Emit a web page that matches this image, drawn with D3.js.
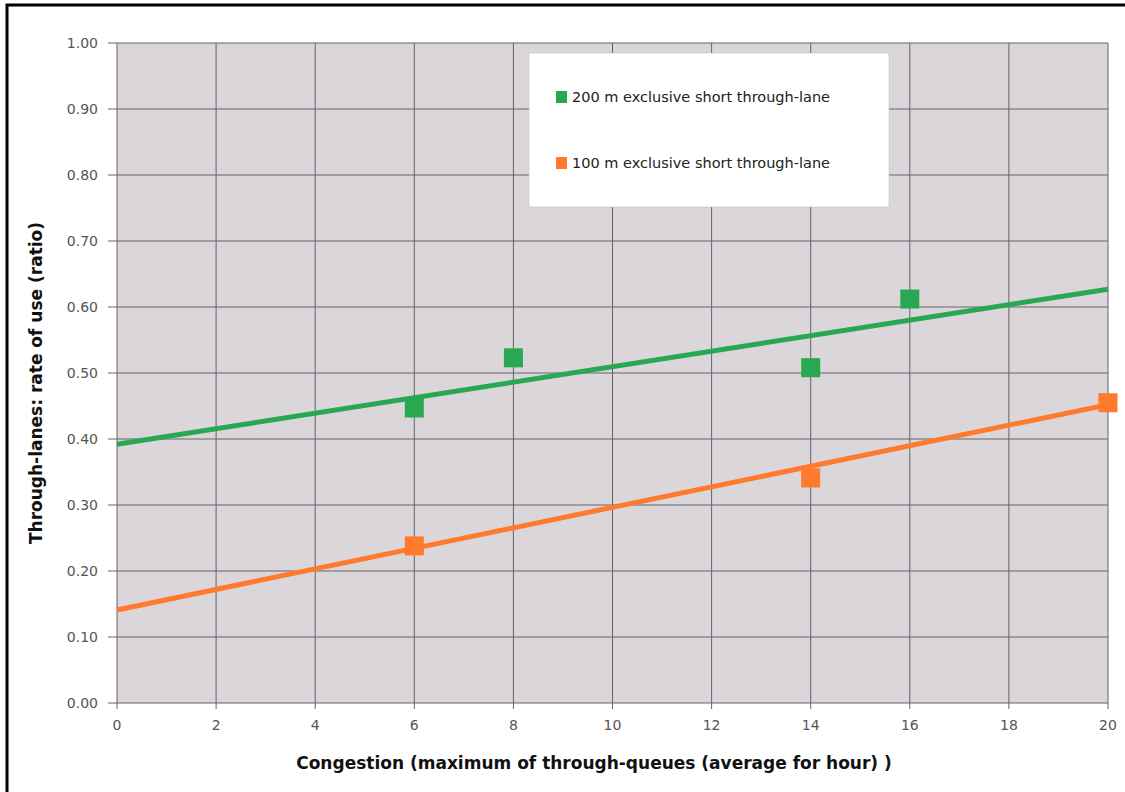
<!DOCTYPE html>
<html>
<head>
<meta charset="utf-8">
<script src="https://cdn.jsdelivr.net/npm/d3@7"></script>
<style>
  body { margin: 0; background: #fff; }
  svg { display: block; }
</style>
</head>
<body>
<svg></svg>
<script>
//CANVAS
var w = 1125;
var h = 792;
var margin = {left: 117, right: 15, top: 43, bottom: 89};

//DATA
var xTicks = [0, 2, 4, 6, 8, 10, 12, 14, 16, 18, 20];
var yTicks = [0, 0.1, 0.2, 0.3, 0.4, 0.5, 0.6, 0.7, 0.8, 0.9, 1.0];
var seriesNames = ["200 m exclusive short through-lane", "100 m exclusive short through-lane"];
var green200x = [6, 8, 14, 16];
var green200y = [0.447, 0.523, 0.508, 0.612];
var orange100x = [6, 14, 20];
var orange100y = [0.238, 0.341, 0.455];
// trend lines, value at x = 0 and x = 20
var trendX = [0, 20];
var green200trend = [0.392, 0.627];
var orange100trend = [0.141, 0.452];
var colors = ["#27a851", "#ff7a2c"];

var svg = d3.select("svg")
     .attr("width", w)
     .attr("height", h)
     .style("font-family", "'DejaVu Sans', Verdana, sans-serif");

//outer frame from the scan
svg.append("rect")
     .attr("x", 7).attr("y", 5)
     .attr("width", w + 10).attr("height", h + 10)
     .attr("fill", "none")
     .attr("stroke", "black")
     .attr("stroke-width", 3);

var xScale = d3.scaleLinear()
     .domain([0, 20])
     .range([margin.left, w - margin.right - 2]);
var yScale = d3.scaleLinear()
     .domain([0, 1])
     .range([h - margin.bottom, margin.top]);

//plot area
svg.append("rect")
     .attr("x", xScale(0))
     .attr("y", yScale(1))
     .attr("width", xScale(20) - xScale(0))
     .attr("height", yScale(0) - yScale(1))
     .attr("fill", "#dbd6da");

//GRID
var gridColor = "#66626a";
svg.append("g")
     .selectAll("line")
     .data(yTicks)
     .join("line")
     .attr("x1", xScale(0) - 9)
     .attr("x2", xScale(20))
     .attr("y1", d => yScale(d))
     .attr("y2", d => yScale(d))
     .attr("stroke", gridColor)
     .attr("stroke-width", 1);

svg.append("g")
     .selectAll("line")
     .data(xTicks)
     .join("line")
     .attr("x1", d => xScale(d))
     .attr("x2", d => xScale(d))
     .attr("y1", yScale(1))
     .attr("y2", yScale(0) + 6)
     .attr("stroke", gridColor)
     .attr("stroke-width", 1);

//AXIS LABELS
svg.append("g")
     .selectAll("text")
     .data(yTicks)
     .join("text")
     .attr("x", xScale(0) - 19)
     .attr("y", d => yScale(d) + 5)
     .attr("text-anchor", "end")
     .attr("font-size", 14)
     .attr("fill", "#555")
     .text(d => d3.format(".2f")(d));

svg.append("g")
     .selectAll("text")
     .data(xTicks)
     .join("text")
     .attr("x", d => xScale(d))
     .attr("y", yScale(0) + 27)
     .attr("text-anchor", "middle")
     .attr("font-size", 14)
     .attr("fill", "#555")
     .text(d => d);

svg.append("text")
     .attr("x", 594)
     .attr("y", 769)
     .attr("text-anchor", "middle")
     .attr("font-size", 17)
     .attr("font-weight", "bold")
     .attr("fill", "#111")
     .text("Congestion (maximum of through-queues (average for hour) )");

svg.append("text")
     .attr("transform", "translate(42,383) rotate(-90)")
     .attr("text-anchor", "middle")
     .attr("font-size", 17)
     .attr("font-weight", "bold")
     .attr("fill", "#111")
     .text("Through-lanes: rate of use (ratio)");

//TREND LINES
var lineMaker = d3.line()
     .x(d => xScale(d[0]))
     .y(d => yScale(d[1]));

svg.append("path")
     .attr("d", lineMaker(d3.zip(trendX, green200trend)))
     .attr("stroke", colors[0])
     .attr("stroke-width", 5)
     .attr("fill", "none");

svg.append("path")
     .attr("d", lineMaker(d3.zip(trendX, orange100trend)))
     .attr("stroke", colors[1])
     .attr("stroke-width", 5)
     .attr("fill", "none");

//POINTS
var sq = 19;
function drawPoints(xs, ys, color) {
     svg.append("g")
          .selectAll("rect")
          .data(d3.zip(xs, ys))
          .join("rect")
          .attr("x", d => xScale(d[0]) - sq / 2)
          .attr("y", d => yScale(d[1]) - sq / 2)
          .attr("width", sq)
          .attr("height", sq)
          .attr("fill", color);
}
drawPoints(green200x, green200y, colors[0]);
drawPoints(orange100x, orange100y, colors[1]);

//LEGEND
var legend = svg.append("g").attr("transform", "translate(529,53)");
legend.append("rect")
     .attr("width", 360)
     .attr("height", 154)
     .attr("fill", "white")
     .attr("stroke", "#bbb")
     .attr("stroke-width", 0.5);

legend.selectAll("g.item")
     .data(seriesNames)
     .join("g")
     .attr("class", "item")
     .attr("transform", (d, i) => "translate(27," + (38 + i * 66) + ")")
     .each(function (d, i) {
          var g = d3.select(this);
          g.append("rect")
               .attr("width", 11)
               .attr("height", 12)
               .attr("fill", colors[i]);
          g.append("text")
               .attr("x", 16)
               .attr("y", 11)
               .attr("font-size", 14.5)
               .attr("fill", "#222")
               .text(d);
     });
</script>
</body>
</html>
